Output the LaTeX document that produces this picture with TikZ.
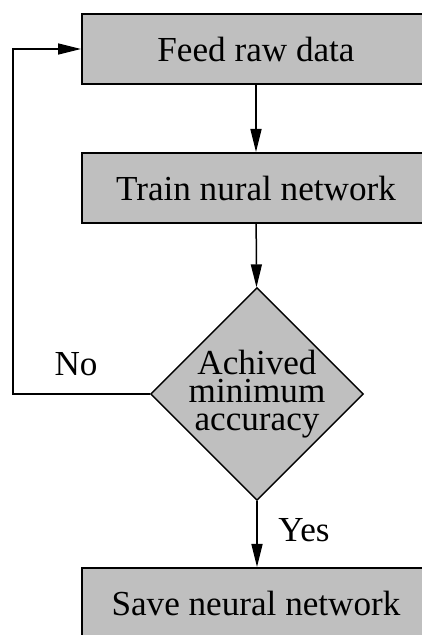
\documentclass[tikz,border=0pt]{standalone}
\usepackage{fontspec}
\setmainfont{Liberation Serif}
\usetikzlibrary{arrows.meta,shapes.geometric,positioning}

\begin{document}
\begin{tikzpicture}[
		font=\fontsize{20}{23}\selectfont,
		procbox/.style={draw,line width=0.4mm,fill=black!25,minimum width=69.6mm,minimum height=14mm,inner sep=0pt},
		decbox/.style={draw,line width=0.3mm,fill=black!25,diamond,aspect=1,minimum width=41.6mm,minimum height=41.6mm,inner sep=-0.6mm,align=center,font=\fontsize{20}{16}\selectfont},
		flow/.style={line width=0.3mm,-{Triangle[length=4.6mm,width=2.2mm]}}]
				\useasboundingbox (0mm,0mm) rectangle (84.4mm,127mm);
				%\draw[color=gray,step=1mm, help lines,opacity=0.3] (0pt,0pt) grid (84.4mm,127mm); %help grids
				\node[procbox] (feed) at (51.2mm,117.2mm) {Feed raw data};
				\node[procbox] (train) at (51.2mm,89.4mm) {Train nural network};
				\node[decbox] (acc) at (51.4mm,48.2mm) {Achived\\minimum\\accuracy};
				\node[procbox] (save) at (51.2mm,6.4mm) {Save neural network};
				\coordinate (loopa) at (2.6mm,48.2mm);
				\coordinate (loopb) at (2.6mm,117.2mm);
				\node (no) at (15.2mm,54.2mm) {No};
				\node (yes) at (60.8mm,21mm) {Yes};
				\draw[flow] (feed) -- (train);
				\draw[flow] (train) -- (acc);
				\draw[flow] (acc.south) -- (acc.south |- save.north);
				\draw[flow] (acc.west) -- (loopa) -- (loopb) -- (feed.west);
\end{tikzpicture}
\end{document}
